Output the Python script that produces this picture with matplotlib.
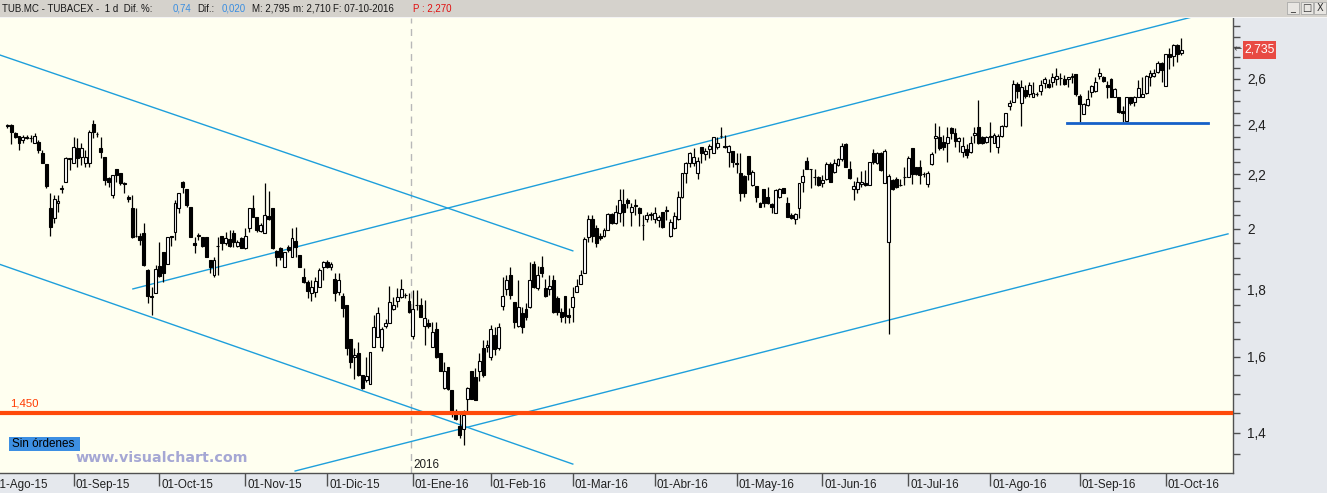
import matplotlib
matplotlib.use("Agg")
import matplotlib.pyplot as plt
import numpy as np
import pandas as pd
from matplotlib.patches import Rectangle
from matplotlib.ticker import FixedLocator, NullFormatter

# ---------------- data: daily bars (open, high, low, close) per month ----------------
aug15 = [(2.395,2.405,2.385,2.400),(2.400,2.405,2.320,2.370),(2.365,2.370,2.345,2.350),
         (2.352,2.355,2.295,2.323),(2.337,2.357,2.323,2.348),(2.348,2.357,2.340,2.345),
         (2.346,2.357,2.330,2.344),(2.323,2.364,2.323,2.352),(2.330,2.337,2.285,2.295),
         (2.286,2.297,2.243,2.245),(2.240,2.240,2.147,2.156),(2.073,2.129,1.977,2.006),
         (2.038,2.123,2.020,2.106),(2.092,2.123,2.062,2.100),(2.145,2.160,2.129,2.150),
         (2.173,2.267,2.173,2.263),(2.259,2.263,2.217,2.263)]
sep15 = [(2.243,2.350,2.243,2.310),(2.303,2.343,2.230,2.263),(2.270,2.323,2.236,2.303),
         (2.243,2.297,2.230,2.267),(2.245,2.378,2.230,2.369),(2.403,2.418,2.343,2.371),
         (2.362,2.371,2.347,2.360),(2.303,2.347,2.263,2.290),(2.267,2.267,2.160,2.179),
         (2.186,2.190,2.154,2.173),(2.122,2.198,2.113,2.198),(2.223,2.223,2.173,2.198),
         (2.204,2.207,2.160,2.166),(2.166,2.172,2.129,2.163),(2.116,2.123,2.098,2.106),
         (2.073,2.123,1.967,1.973),(1.975,2.073,1.973,1.975),(1.975,1.986,1.945,1.962),
         (1.985,2.020,1.874,1.878),(1.862,1.864,1.757,1.779),(1.779,1.808,1.721,1.775),
         (1.789,1.878,1.789,1.864)]
oct15 = [(1.874,1.956,1.840,1.842),(1.922,1.922,1.824,1.851),(1.881,1.973,1.881,1.971),
         (1.973,1.975,1.942,1.975),(1.991,2.104,1.962,2.092),(2.073,2.129,2.056,2.129),
         (2.172,2.175,2.131,2.151),(2.144,2.144,2.080,2.086),(2.077,2.077,1.971,1.971),
         (1.952,1.971,1.917,1.944),(1.976,1.985,1.962,1.976),(1.973,1.973,1.939,1.941),
         (1.971,1.971,1.903,1.903),(1.894,1.894,1.851,1.872),(1.846,1.905,1.840,1.894),
         (1.941,1.973,1.846,1.941),(1.975,1.975,1.928,1.952),(1.952,1.990,1.944,1.970),
         (1.964,1.996,1.939,1.941),(1.985,1.996,1.939,1.956),(1.941,1.962,1.939,1.956),
         (1.967,1.973,1.933,1.933)]
nov15 = [(1.933,2.002,1.930,1.975),(2.002,2.073,1.991,2.073),(2.073,2.123,2.044,2.044),
         (2.042,2.044,1.991,1.996),(1.994,2.022,1.988,2.014),(1.985,2.166,1.985,2.050),
         (2.046,2.139,2.032,2.034),(2.073,2.073,1.930,1.933),(1.926,1.928,1.874,1.903),
         (1.933,1.939,1.894,1.905),(1.872,1.922,1.872,1.922),(1.939,1.945,1.922,1.928),
         (1.905,2.002,1.903,1.967),(1.960,2.008,1.905,1.939),(1.911,1.911,1.872,1.872),
         (1.838,1.867,1.821,1.824),(1.824,1.829,1.772,1.793),(1.788,1.829,1.762,1.806),
         (1.790,1.840,1.777,1.827),(1.808,1.867,1.806,1.862),(1.870,1.891,1.829,1.889)]
dec15 = [(1.889,1.894,1.867,1.872),(1.870,1.889,1.862,1.880),(1.831,1.851,1.762,1.787),
         (1.790,1.851,1.782,1.829),(1.779,1.787,1.714,1.741),(1.751,1.751,1.604,1.623),
         (1.649,1.649,1.568,1.586),(1.598,1.623,1.538,1.605),(1.611,1.642,1.547,1.550),
         (1.550,1.550,1.511,1.514),(1.536,1.600,1.531,1.547),(1.525,1.614,1.525,1.614),
         (1.628,1.721,1.628,1.686),(1.655,1.744,1.655,1.728),(1.628,1.686,1.617,1.678),
         (1.688,1.708,1.681,1.698),(1.698,1.810,1.696,1.759),(1.738,1.777,1.736,1.751),
         (1.762,1.803,1.746,1.777),(1.777,1.834,1.772,1.800),(1.782,1.787,1.772,1.782),
         (1.762,1.787,1.726,1.731)]
jan16 = [(1.658,1.798,1.651,1.738),(1.750,1.798,1.736,1.750),(1.751,1.772,1.716,1.716),
         (1.688,1.767,1.633,1.713),(1.698,1.708,1.681,1.688),(1.628,1.701,1.628,1.671),
         (1.678,1.701,1.595,1.600),(1.609,1.609,1.559,1.561),(1.514,1.586,1.511,1.560),
         (1.572,1.572,1.508,1.511),(1.508,1.508,1.440,1.456),(1.455,1.459,1.432,1.434),
         (1.416,1.449,1.388,1.395),(1.409,1.458,1.371,1.445),(1.485,1.518,1.449,1.514),
         (1.559,1.559,1.485,1.486),(1.545,1.568,1.483,1.483),(1.559,1.609,1.532,1.589),
         (1.623,1.647,1.545,1.550),(1.628,1.647,1.614,1.634)]
feb16 = [(1.600,1.691,1.591,1.678),(1.661,1.686,1.605,1.621),(1.623,1.696,1.619,1.686),
         (1.748,1.840,1.736,1.779),(1.800,1.845,1.782,1.829),(1.845,1.870,1.769,1.782),
         (1.759,1.759,1.681,1.701),(1.689,1.829,1.686,1.746),(1.728,1.746,1.666,1.686),
         (1.738,1.757,1.706,1.714),(1.744,1.889,1.741,1.829),(1.880,1.892,1.803,1.806),
         (1.803,1.876,1.798,1.845),(1.870,1.907,1.840,1.851),(1.803,1.834,1.777,1.779),
         (1.800,1.845,1.782,1.810),(1.829,1.845,1.726,1.731),(1.772,1.779,1.721,1.731),
         (1.731,1.741,1.701,1.716),(1.779,1.779,1.696,1.718),(1.721,1.741,1.696,1.714)]
mar16 = [(1.744,1.806,1.701,1.775),(1.792,1.834,1.790,1.810),(1.818,1.862,1.816,1.845),
         (1.853,1.973,1.851,1.964),(1.973,2.050,1.956,2.034),(2.034,2.050,1.956,1.975),
         (2.002,2.014,1.939,1.952),(1.975,1.987,1.962,1.967),(1.975,2.002,1.971,1.996),
         (1.998,2.056,1.996,2.052),(2.052,2.056,2.017,2.020),(2.022,2.086,2.017,2.061),
         (2.056,2.143,2.026,2.104),(2.090,2.143,2.010,2.061),(2.104,2.110,2.073,2.092),
         (2.061,2.092,2.010,2.077),(2.082,2.106,2.050,2.084),(2.073,2.077,2.010,2.056),
         (2.014,2.050,1.962,2.014),(2.034,2.061,2.026,2.050),(2.050,2.061,2.032,2.050)]
apr16 = [(2.034,2.080,2.022,2.058),(2.032,2.050,2.008,2.041),(2.061,2.061,2.002,2.008),
         (2.065,2.082,2.032,2.065),(1.975,2.034,1.971,2.026),(2.002,2.061,1.999,2.046),
         (2.034,2.139,2.032,2.116),(2.114,2.207,2.110,2.204),(2.204,2.250,2.166,2.243),
         (2.243,2.290,2.230,2.286),(2.246,2.303,2.233,2.267),(2.207,2.267,2.181,2.253),
         (2.307,2.310,2.243,2.286),(2.281,2.303,2.256,2.294),(2.299,2.321,2.263,2.313),
         (2.286,2.350,2.286,2.348),(2.307,2.348,2.299,2.323),(2.353,2.392,2.343,2.355),
         (2.313,2.357,2.303,2.307),(2.290,2.317,2.227,2.313),(2.294,2.294,2.230,2.250)]
may16 = [(2.246,2.283,2.207,2.240),(2.207,2.283,2.101,2.129),(2.194,2.198,2.114,2.131),
         (2.272,2.272,2.179,2.201),(2.160,2.217,2.157,2.211),(2.156,2.156,2.098,2.114),
         (2.092,2.098,2.077,2.080),(2.143,2.145,2.077,2.092),(2.116,2.151,2.089,2.092),
         (2.089,2.092,2.058,2.077),(2.058,2.143,2.058,2.141),(2.114,2.147,2.110,2.143),
         (2.147,2.150,2.129,2.131),(2.092,2.114,2.042,2.042),(2.050,2.056,2.034,2.038),
         (2.034,2.056,2.017,2.052),(2.073,2.169,2.038,2.169),(2.173,2.223,2.135,2.194),
         (2.253,2.267,2.223,2.223),(2.223,2.223,2.147,2.220),(2.189,2.223,2.160,2.189),
         (2.192,2.194,2.156,2.160)]
jun16 = [(2.169,2.198,2.151,2.179),(2.181,2.250,2.179,2.240),(2.240,2.250,2.173,2.173),
         (2.211,2.259,2.207,2.243),(2.236,2.263,2.233,2.259),(2.259,2.323,2.254,2.313),
         (2.321,2.323,2.227,2.230),(2.220,2.254,2.181,2.186),(2.145,2.176,2.104,2.156),
         (2.145,2.192,2.129,2.173),(2.163,2.214,2.151,2.173),(2.169,2.217,2.156,2.160),
         (2.160,2.250,2.160,2.250),(2.283,2.299,2.240,2.250),(2.243,2.290,2.240,2.286),
         (2.286,2.290,2.214,2.217),(2.169,2.299,2.169,2.294),(1.955,2.200,1.665,2.195),
         (2.179,2.182,2.142,2.145),(2.182,2.192,2.148,2.154),(2.160,2.182,2.157,2.160),
         (2.190,2.230,2.160,2.192)]
jul16 = [(2.192,2.272,2.192,2.266),(2.303,2.303,2.164,2.201),(2.230,2.230,2.198,2.201),
         (2.230,2.256,2.164,2.198),(2.202,2.211,2.192,2.200),(2.164,2.214,2.151,2.207),
         (2.240,2.290,2.236,2.280),(2.343,2.409,2.286,2.353),(2.350,2.395,2.297,2.303),
         (2.330,2.357,2.297,2.307),(2.326,2.389,2.250,2.348),(2.385,2.389,2.340,2.367),
         (2.364,2.385,2.310,2.334),(2.334,2.348,2.290,2.343),(2.290,2.350,2.267,2.313),
         (2.299,2.320,2.263,2.276),(2.290,2.353,2.286,2.323),(2.357,2.389,2.326,2.367),
         (2.392,2.506,2.320,2.323),(2.350,2.353,2.320,2.323),(2.330,2.353,2.326,2.350)]
aug16 = [(2.350,2.413,2.290,2.352),(2.326,2.364,2.323,2.357),(2.307,2.361,2.286,2.353),
         (2.353,2.399,2.350,2.395),(2.395,2.451,2.392,2.448),(2.480,2.506,2.463,2.494),
         (2.499,2.595,2.499,2.577),(2.577,2.588,2.513,2.547),(2.494,2.595,2.395,2.565),
         (2.550,2.573,2.513,2.523),(2.532,2.588,2.520,2.573),(2.520,2.588,2.517,2.538),
         (2.532,2.542,2.523,2.532),(2.547,2.595,2.528,2.573),(2.583,2.607,2.558,2.598),
         (2.577,2.598,2.558,2.562),(2.587,2.629,2.565,2.607),(2.598,2.649,2.573,2.613),
         (2.603,2.626,2.573,2.603),(2.598,2.618,2.573,2.577),(2.598,2.610,2.565,2.610),
         (2.610,2.626,2.580,2.612),(2.623,2.623,2.523,2.532)]
sep16 = [(2.523,2.532,2.413,2.489),(2.445,2.492,2.445,2.489),(2.484,2.550,2.480,2.509),
         (2.542,2.573,2.520,2.568),(2.547,2.607,2.542,2.588),(2.613,2.649,2.598,2.626),
         (2.607,2.613,2.587,2.592),(2.573,2.592,2.513,2.562),(2.598,2.603,2.520,2.520),
         (2.520,2.558,2.517,2.553),(2.520,2.520,2.448,2.452),(2.458,2.480,2.413,2.451),
         (2.416,2.520,2.416,2.520),(2.520,2.520,2.484,2.494),(2.497,2.525,2.480,2.520),
         (2.520,2.595,2.517,2.558),(2.517,2.610,2.517,2.532),(2.535,2.618,2.532,2.613),
         (2.607,2.641,2.568,2.626),(2.613,2.644,2.607,2.629),(2.633,2.684,2.629,2.675),
         (2.675,2.680,2.588,2.641)]
oct16 = [(2.568,2.717,2.568,2.717),(2.717,2.743,2.644,2.701),(2.704,2.765,2.659,2.760),
         (2.760,2.765,2.680,2.715),(2.720,2.795,2.710,2.735)]

market_holidays = ["2015-12-25", "2016-01-01", "2016-03-25", "2016-03-28"]
month_labels = ["01-Ago-15", "01-Sep-15", "01-Oct-15", "01-Nov-15", "01-Dic-15", "01-Ene-16",
                "01-Feb-16", "01-Mar-16", "01-Abr-16", "01-May-16", "01-Jun-16", "01-Jul-16",
                "01-Ago-16", "01-Sep-16", "01-Oct-16"]
month_starts = ["2015-08-01", "2015-09-01", "2015-10-01", "2015-11-01", "2015-12-01",
                "2016-01-01", "2016-02-01", "2016-03-01", "2016-04-01", "2016-05-01",
                "2016-06-01", "2016-07-01", "2016-08-01", "2016-09-01", "2016-10-01"]
price_ticks = [1.4, 1.6, 1.8, 2.0, 2.2, 2.4, 2.6]
price_tick_labels = ["1,4", "1,6", "1,8", "2", "2,2", "2,4", "2,6"]

# trend lines drawn on the chart: (bar index start, price start, bar index end, price end)
down_channel_top = (-1.9, 2.711, 145.0, 1.925)
down_channel_bottom = (-1.9, 1.880, 145.0, 1.326)
up_channel_top = (32.2, 1.801, 305.3, 2.905)
up_channel_bottom = (73.8, 1.310, 313.0, 1.983)
support_level = (271.7, 307.9, 2.408)
order_level = 1.450
last_price = 2.735

# ---------------- build series ----------------
bars = aug15 + sep15 + oct15 + nov15 + dec15 + jan16 + feb16 + mar16 + apr16 + may16 + \
       jun16 + jul16 + aug16 + sep16 + oct16
O = np.array([b[0] for b in bars])
Hh = np.array([b[1] for b in bars])
L = np.array([b[2] for b in bars])
C = np.array([b[3] for b in bars])
x = np.arange(len(bars))
dates = pd.bdate_range("2015-08-03", "2016-10-07")
dates = dates[~dates.isin(pd.to_datetime(market_holidays))]
first_bar = int(np.argmax(dates >= pd.Timestamp("2015-08-07")))
tick_pos = [int(np.argmax(dates >= pd.Timestamp(d))) - first_bar for d in month_starts]

# ---------------- figure ----------------
plt.rcParams["font.family"] = ["Liberation Sans", "DejaVu Sans"]
W, H = 1327, 493
fig = plt.figure(figsize=(W / 100, H / 100), dpi=100, facecolor="#E5E8ED")


def fx(px):
    return px / W


def fy(py):
    return 1 - py / H


PLOT_TOP, PLOT_BOT, PLOT_RIGHT = 18, 473, 1233
ax = fig.add_axes([0, fy(PLOT_BOT), fx(PLOT_RIGHT), fy(PLOT_TOP) - fy(PLOT_BOT)])
ax.set_facecolor("#FFFFF0")
ax.set_yscale("log")
ylo = 1.4 * np.exp((433 - PLOT_BOT) / 572.0)
yhi = 1.4 * np.exp((433 - PLOT_TOP) / 572.0)
ax.set_ylim(ylo, yhi)
xlo, xhi = (0 - 7.3) / 3.9, (PLOT_RIGHT - 7.3) / 3.9
ax.set_xlim(xlo, xhi)

# candles
ax.vlines(x, L, Hh, color="black", lw=0.9, zorder=3)
lo = np.minimum(O, C)
hi = np.maximum(O, C)
ht = np.maximum(hi - lo, 0.0015)
up = C >= O
ax.bar(x[up], ht[up], bottom=lo[up], width=0.72, color="white", edgecolor="black",
       linewidth=0.8, zorder=4)
ax.bar(x[~up], ht[~up], bottom=lo[~up], width=0.72, color="black", edgecolor="black",
       linewidth=0.8, zorder=4)

# trend lines
cyan = "#1E9FDB"
for ln in (down_channel_top, down_channel_bottom, up_channel_top, up_channel_bottom):
    ax.plot([ln[0], ln[2]], [ln[1], ln[3]], color=cyan, lw=1.0, zorder=2)
ax.plot([support_level[0], support_level[1]], [support_level[2]] * 2, color="#1560C8",
        lw=2.0, zorder=5)
ax.axhline(order_level, color="#FF4A0A", lw=3.0, zorder=6)
ax.axvline(103.5, color="#B8B8B8", lw=1.0, ls=(0, (5, 4)), zorder=1)

# axes styling
for s in ("top", "left"):
    ax.spines[s].set_visible(False)
for s in ("right", "bottom"):
    ax.spines[s].set_color("#505050")
    ax.spines[s].set_linewidth(1.0)

ax.yaxis.tick_right()
ax.yaxis.set_major_locator(FixedLocator(price_ticks))
ax.set_yticklabels(price_tick_labels)
minor = [round(1.35 + 0.05 * i, 2) for i in range(32)]
minor = [m for m in minor if all(abs(m - t) > 1e-6 for t in price_ticks)]
ax.yaxis.set_minor_locator(FixedLocator(minor))
ax.yaxis.set_minor_formatter(NullFormatter())
ax.tick_params(axis="y", which="both", direction="out", length=5, width=1, color="#505050",
               labelsize=9.8, labelcolor="#202020", pad=5)

visible = [(p, lab) for p, lab in zip(tick_pos, month_labels) if xlo <= p <= xhi]
ax.set_xticks([p for p, _ in visible])
ax.tick_params(axis="x", which="major", direction="out", length=9, width=1, color="#505050",
               labelbottom=False)
for p, lab in zip(tick_pos, month_labels):
    ax.annotate(lab, xy=(p, 0), xycoords=ax.get_xaxis_transform(), xytext=(2, -6),
                textcoords="offset pixels", ha="left", va="top", fontsize=8.4,
                color="#202020", annotation_clip=False)

# texts inside the plot
fig.text(fx(10), fy(403), "1,450", color="#FF3A00", fontsize=8.2, va="center", ha="left")
fig.patches.append(Rectangle((fx(9), fy(451)), fx(80) - fx(9), fy(437) - fy(451),
                             transform=fig.transFigure, facecolor="#3D8FE3", edgecolor="none",
                             zorder=10))
fig.text(fx(12), fy(444), "Sin órdenes", color="black", fontsize=8.4, va="center", ha="left",
         zorder=11)
fig.text(fx(75), fy(457.5), "www.visualchart.com", color="#A5A7D4", fontsize=10.3,
         fontweight="bold", va="center", ha="left", family="DejaVu Sans")
fig.text(fx(413), fy(465), "2016", color="#202020", fontsize=8.4, va="center", ha="left")

# last price marker
fig.patches.append(Rectangle((fx(1243), fy(59)), fx(1276) - fx(1243), fy(41) - fy(59),
                             transform=fig.transFigure, facecolor="#E84A43", edgecolor="none",
                             zorder=10))
fig.text(fx(1259.5), fy(50), "2,735", color="white", fontsize=8.8, va="center", ha="center",
         zorder=11)
fig.text(fx(1234), fy(49.5), "←", color="#404040", fontsize=7, va="center", ha="left",
         family="DejaVu Sans")

# title bar
fig.patches.append(Rectangle((0, fy(17)), 1, fy(0) - fy(17), transform=fig.transFigure,
                             facecolor="#D5D2CC", edgecolor="none", zorder=5))
fig.patches.append(Rectangle((0, fy(18)), 1, fy(17) - fy(18), transform=fig.transFigure,
                             facecolor="#F4F4F4", edgecolor="none", zorder=5))
title_parts = [
    (2, "TUB.MC - TUBACEX -  1 d  Dif. %:", "#1A1A1A"),
    (173, "0,74", "#3A8EE0"),
    (197, "Dif.:", "#1A1A1A"),
    (222, "0,020", "#3A8EE0"),
    (252, "M: 2,795", "#1A1A1A"),
    (293, "m: 2,710", "#1A1A1A"),
    (333, "F: 07-10-2016", "#1A1A1A"),
    (413, "P : 2,270", "#E01010"),
]
for px, txt, col in title_parts:
    fig.text(fx(px), fy(8.5), txt, color=col, fontsize=7.0, va="center", ha="left", zorder=6)
for bx, sym in ((1287, "_"), (1301, "□"), (1314, "X")):
    fig.patches.append(Rectangle((fx(bx), fy(14)), fx(12), fy(2) - fy(14),
                                 transform=fig.transFigure, facecolor="#E8E6E2",
                                 edgecolor="#A0A0A0", lw=0.5, zorder=6))
    fig.text(fx(bx + 6), fy(8), sym, color="#303030", fontsize=7, va="center", ha="center",
             zorder=7, family="DejaVu Sans")

fig.savefig("out.png", dpi=100, facecolor=fig.get_facecolor())
